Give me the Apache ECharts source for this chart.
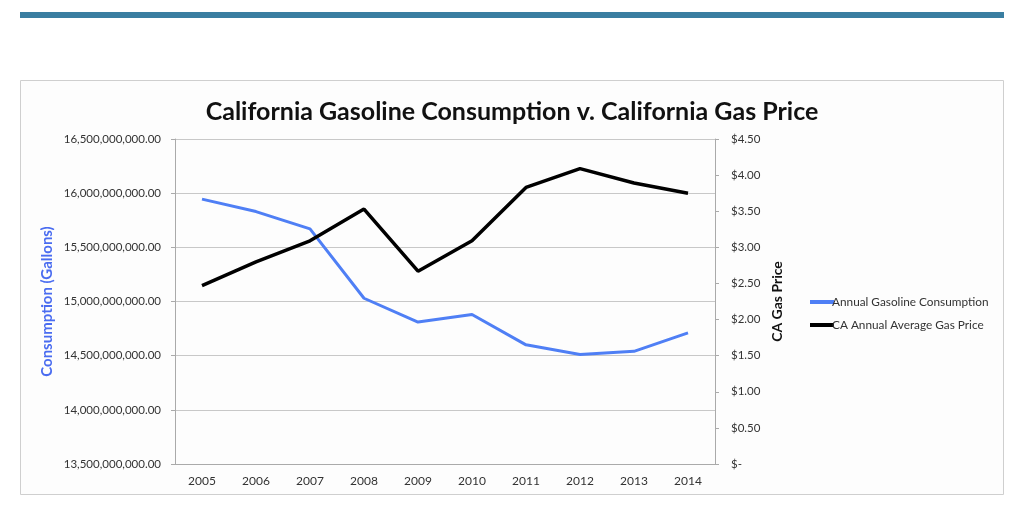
<!DOCTYPE html>
<html>
<head>
<meta charset="utf-8">
<title>California Gasoline Consumption v. California Gas Price</title>
<script src="https://cdn.jsdelivr.net/npm/echarts@6/dist/echarts.min.js"></script>
<style>
    html, body { margin: 0; padding: 0; background: #fff; }
    #box { width: 1024px; height: 516px; }
</style>
</head>
<body>
<div id="box"></div>
<script>
// 数据
var years = ['2005', '2006', '2007', '2008', '2009', '2010', '2011', '2012', '2013', '2014'];
var consumption = [15.945e9, 15.83e9, 15.67e9, 15.03e9, 14.81e9, 14.88e9, 14.60e9, 14.51e9, 14.54e9, 14.71e9];
var gasPrice = [2.47, 2.80, 3.09, 3.53, 2.67, 3.09, 3.83, 4.09, 3.89, 3.75];
var seriesNames = ['Annual Gasoline Consumption', 'CA Annual Average Gas Price'];

function fmtGallons(v) {
    var s = Math.round(v).toString().replace(/\B(?=(\d{3})+(?!\d))/g, ',');
    return s + '.00';
}

function fmtPrice(v) {
    if (v === 0) return '$-';
    return '$' + v.toFixed(2);
}

var font = 'Lato, "Open Sans", sans-serif';
var myChart = echarts.init(document.getElementById('box'));

myChart.setOption({
    animation: false,
    textStyle: { fontFamily: font },
    graphic: [
        {
            type: 'rect',
            shape: { x: 20, y: 12, width: 984, height: 6 },
            style: { fill: '#3a7ea1' }
        },
        {
            type: 'rect',
            z: -10,
            shape: { x: 20.5, y: 80.5, width: 983, height: 414 },
            style: { fill: '#fdfdfd', stroke: '#cfcfcf', lineWidth: 1 }
        }
    ],
    title: {
        text: 'California Gasoline Consumption v. California Gas Price',
        left: 'center',
        top: 94,
        textStyle: {
            fontFamily: font,
            fontSize: 25,
            fontWeight: 'bold',
            color: '#111'
        }
    },
    legend: {
        orient: 'vertical',
        left: 805,
        top: 291,
        itemWidth: 24,
        itemHeight: 4,
        itemGap: 11,
        icon: 'rect',
        data: seriesNames,
        textStyle: { fontFamily: font, fontSize: 11.8, color: '#333', padding: [0, 0, 0, -7] }
    },
    grid: {
        left: 175,
        right: 309,
        top: 139,
        bottom: 52
    },
    xAxis: {
        type: 'category',
        data: years,
        axisLine: { lineStyle: { color: '#aaa' } },
        axisTick: { show: false },
        axisLabel: { color: '#333', fontSize: 12, margin: 11 }
    },
    yAxis: [
        {
            type: 'value',
            position: 'left',
            min: 13.5e9,
            max: 16.5e9,
            interval: 0.5e9,
            name: 'Consumption (Gallons)',
            nameLocation: 'middle',
            nameGap: 120,
            nameMoveOverlap: false,
            nameTextStyle: { color: '#4a6cf0', fontSize: 15, fontWeight: 'bold' },
            axisLine: { show: true, lineStyle: { color: '#aaa' } },
            axisTick: { show: true, length: 4, lineStyle: { color: '#aaa' } },
            axisLabel: { formatter: fmtGallons, color: '#333', fontSize: 11.5, margin: 14 },
            splitLine: { lineStyle: { color: '#c8c8c8' } }
        },
        {
            type: 'value',
            position: 'right',
            min: 0,
            max: 4.5,
            interval: 0.5,
            name: 'CA Gas Price',
            nameLocation: 'middle',
            nameGap: 55,
            nameMoveOverlap: false,
            nameTextStyle: { color: '#111', fontSize: 14, fontWeight: 'bold' },
            axisLine: { show: true, lineStyle: { color: '#aaa' } },
            axisTick: { show: true, length: 4, lineStyle: { color: '#aaa' } },
            axisLabel: { formatter: fmtPrice, color: '#333', fontSize: 11.5, margin: 16 },
            splitLine: { show: false }
        }
    ],
    series: [
        {
            name: seriesNames[0],
            type: 'line',
            yAxisIndex: 0,
            symbol: 'none',
            color: '#4f7ff5',
            lineStyle: { width: 3, color: '#4f7ff5' },
            data: consumption
        },
        {
            name: seriesNames[1],
            type: 'line',
            yAxisIndex: 1,
            symbol: 'none',
            color: '#000',
            lineStyle: { width: 3.5, color: '#000' },
            data: gasPrice
        }
    ]
});
window.addEventListener('resize', function () {
    myChart.resize();
});
</script>
</body>
</html>
